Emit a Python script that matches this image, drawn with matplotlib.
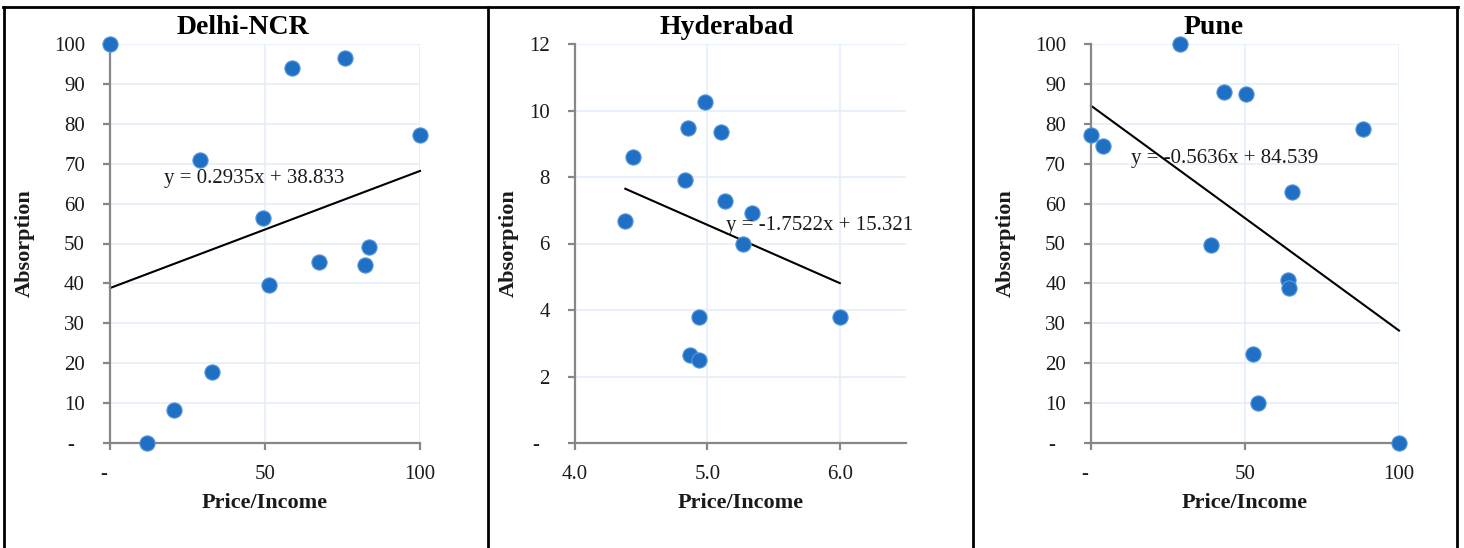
import matplotlib
matplotlib.use('Agg')
import matplotlib.pyplot as plt
from matplotlib.lines import Line2D
import numpy as np

plt.rcParams['font.family'] = ['Liberation Serif', 'DejaVu Serif']

# ---- data ----
delhi_x = [0, 11.8, 20.7, 33.0, 29.1, 49.4, 51.3, 58.6, 75.8, 67.3, 82.3, 83.7, 100]
delhi_y = [100, 0, 8.3, 17.9, 71.0, 56.3, 39.6, 94.1, 96.5, 45.4, 44.5, 49.0, 77.3]
delhi_fit = (0.2935, 38.833)

hyd_x = [4.38, 4.44, 4.83, 4.85, 4.98, 5.10, 5.13, 5.34, 5.27, 4.94, 4.87, 4.94, 6.00]
hyd_y = [6.67, 8.61, 7.91, 9.47, 10.26, 9.36, 7.29, 6.92, 5.99, 3.78, 2.65, 2.49, 3.78]
hyd_fit = (-1.7522, 15.321)

pune_x = [0, 3.8, 29.0, 43.3, 50.3, 88.2, 65.1, 38.8, 63.9, 64.4, 52.7, 54.3, 100]
pune_y = [77.2, 74.5, 100, 87.9, 87.5, 78.7, 62.9, 49.6, 40.9, 38.8, 22.3, 9.9, 0]
pune_fit = (-0.5636, 84.539)

titles = ['Delhi-NCR', 'Hyderabad', 'Pune']
pct_yticks = list(range(0, 101, 10))
pct_xticks = [0, 50, 100]
hyd_yticks = list(range(0, 13, 2))
hyd_xticks = [4.0, 5.0, 6.0]

W, H = 1464, 548
fig = plt.figure(figsize=(W / 100, H / 100), dpi=100)
fig.patch.set_facecolor('white')

def px_axes(left, right, top, bottom):
    return fig.add_axes([left / W, 1 - bottom / H, (right - left) / W, (bottom - top) / H])

GRID = '#E4EDF8'
SPINE = '#878787'
BLUE = '#1F6FC4'
EDGE = '#5A98DA'
TXT = '#1a1a1a'

# excel accounting format shows zero as a dash with trailing padding
zero_y = '-  '
zero_x = '-  '

panels = [
    dict(x=delhi_x, y=delhi_y, fit=delhi_fit, box=(110, 420, 44, 443), xlim=(0, 100), ylim=(0, 100),
         xt=pct_xticks, xl=[zero_x, '50', '100'], yt=pct_yticks, yl=[zero_y] + [str(v) for v in pct_yticks[1:]],
         eq=(0.174, 0.662), title_x=243, ylab_x=25),
    dict(x=hyd_x, y=hyd_y, fit=hyd_fit, box=(575, 906, 44, 443), xlim=(4, 6.5), ylim=(0, 12),
         xt=hyd_xticks, xl=['%.1f' % v for v in hyd_xticks], yt=hyd_yticks, yl=[zero_y] + [str(v) for v in hyd_yticks[1:]],
         eq=(0.456, 0.546), title_x=727, ylab_x=509),
    dict(x=pune_x, y=pune_y, fit=pune_fit, box=(1091, 1399, 44, 443), xlim=(0, 100), ylim=(0, 100),
         xt=pct_xticks, xl=[zero_x, '50', '100'], yt=pct_yticks, yl=[zero_y] + [str(v) for v in pct_yticks[1:]],
         eq=(0.130, 0.714), title_x=1214, ylab_x=1006),
]

for p, title in zip(panels, titles):
    left, right, top, bottom = p['box']
    ax = px_axes(left, right, top, bottom)
    ax.set_xlim(*p['xlim'])
    ax.set_ylim(*p['ylim'])
    ax.set_xticks(p['xt'])
    ax.set_xticklabels(p['xl'])
    ax.set_yticks(p['yt'])
    ax.set_yticklabels(p['yl'])
    ax.grid(True, color=GRID, linewidth=1.2)
    ax.set_axisbelow(True)
    for s in ['top', 'right']:
        ax.spines[s].set_visible(False)
    for s in ['left', 'bottom']:
        ax.spines[s].set_color(SPINE)
        ax.spines[s].set_linewidth(1.6)
    ax.tick_params(axis='both', direction='out', length=5, width=1.6, color=SPINE,
                   labelsize=15, labelcolor=TXT)
    ax.tick_params(axis='y', pad=13)
    ax.tick_params(axis='x', pad=11)

    xs = np.array(p['x'])
    m, b = p['fit']
    xx = np.array([xs.min(), xs.max()])
    ax.plot(xx, m * xx + b, color='black', linewidth=1.5, zorder=2, clip_on=False)
    ax.scatter(xs, p['y'], s=120, color=BLUE, edgecolors=EDGE, linewidths=0.8, zorder=3, clip_on=False)

    sign = '+' if b >= 0 else '-'
    ax.text(p['eq'][0], p['eq'][1], 'y = %.4fx %s %.3f' % (m, sign, abs(b)), transform=ax.transAxes,
            fontsize=15, color=TXT, ha='left', va='center', zorder=4)

    fig.text(p['title_x'] / W, 1 - 28 / H, title, fontsize=20, fontweight='bold',
             ha='center', va='center', color='black')
    fig.text((left + right) / 2 / W, 1 - 503 / H, 'Price/Income', fontsize=16, fontweight='bold',
             ha='center', va='center', color=TXT)
    fig.text(p['ylab_x'] / W, 1 - (top + bottom) / 2 / H, 'Absorption', fontsize=16, fontweight='bold',
             ha='center', va='center', rotation=90, color=TXT)

# panel frames (no bottom edge, cut off by the image)
frame_y = 1 - 6.5 / H
for x0 in [4, 488, 973, 1457]:
    fig.add_artist(Line2D([x0 / W, x0 / W], [0, frame_y], color='black', linewidth=2))
fig.add_artist(Line2D([3 / W, 1458 / W], [frame_y, frame_y], color='black', linewidth=2))

fig.savefig('out.png', dpi=100, facecolor='white')
